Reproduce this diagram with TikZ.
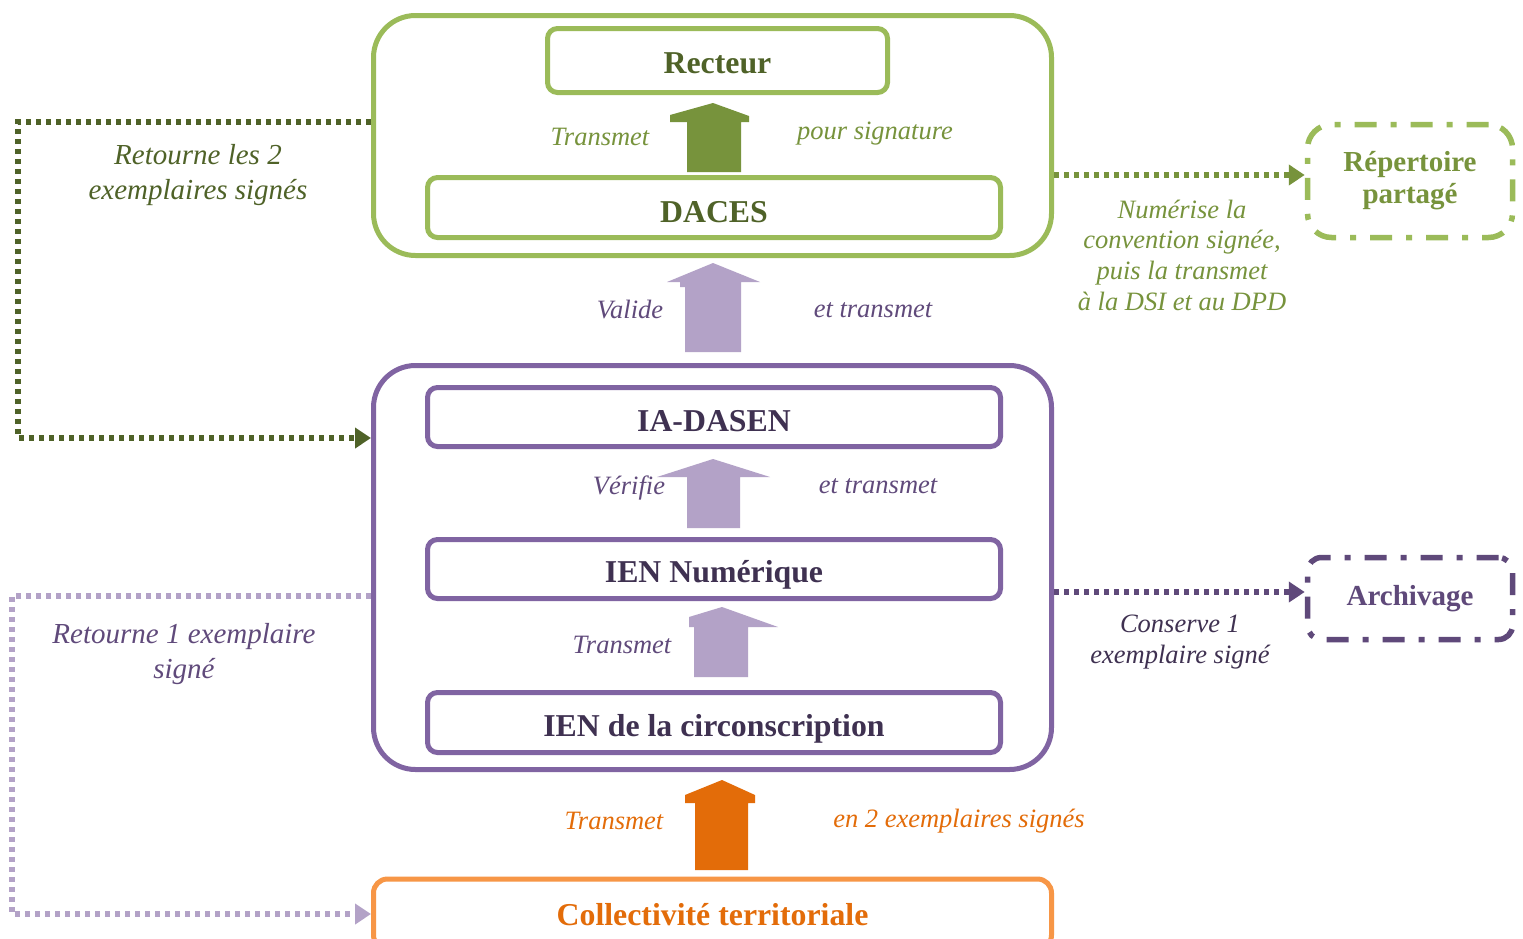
\documentclass[tikz,border=0pt]{standalone}
\usepackage{fontspec}
\setmainfont{Liberation Serif}
\usetikzlibrary{arrows.meta}
\definecolor{lgreen}{HTML}{9BBB59}
\definecolor{mgreen}{HTML}{77933C}
\definecolor{dgreen}{HTML}{4F6228}
\definecolor{lpurple}{HTML}{B3A2C7}
\definecolor{mpurple}{HTML}{8064A2}
\definecolor{tpurple}{HTML}{604A7B}
\definecolor{dpurple}{HTML}{3F3151}
\definecolor{apurple}{HTML}{5F497A}
\definecolor{orangeA}{HTML}{E36C09}
\definecolor{orangeB}{HTML}{F79646}
\tikzset{
  bigbox/.style={draw, line width=5pt, rounded corners=42pt, inner sep=0pt},
  innerbox/.style={draw, line width=5pt, rounded corners=10pt, inner sep=0pt,
    text depth=0pt, font=\fontsize{31.8}{36}\selectfont\bfseries},
  sidebox/.style={draw, line width=5.5pt, rounded corners=24pt, inner sep=0pt,
    dash pattern=on 22pt off 14pt on 6pt off 14pt,
    font=\fontsize{29}{34}\selectfont\bfseries, align=center},
  lbl/.style={font=\fontsize{26.5}{31}\selectfont\itshape, inner sep=0pt, align=center},
  biglbl/.style={font=\fontsize{29}{34.5}\selectfont\itshape, inner sep=0pt, align=center},
  dotline/.style={line width=5.5pt, dash pattern=on 5pt off 5pt,
    -{Triangle[length=16pt,width=20pt]}},
}
\begin{document}
\begin{tikzpicture}[x=1pt,y=-1pt]
\useasboundingbox (0,0) rectangle (1523,938);
\clip (0,0) rectangle (1523,938);
\fill[white] (0,0) rectangle (1523,938);

% big containers
\node[bigbox, lgreen, minimum width=678pt, minimum height=240pt] (green) at (712.5,135.5) {};
\node[bigbox, mpurple, minimum width=678pt, minimum height=404pt] (purple) at (712.5,567.5) {};

% inner boxes
\node[innerbox, lgreen, text=dgreen, text height=25pt, minimum width=340pt, minimum height=64pt] (recteur) at (717.5,60.5) {Recteur};
\node[innerbox, lgreen, text=dgreen, text height=29pt, minimum width=573pt, minimum height=60pt] (daces) at (714,207.5) {DACES};
\node[innerbox, mpurple, text=dpurple, text height=29pt, minimum width=573pt, minimum height=59pt] (iadasen) at (714,417) {IA-DASEN};
\node[innerbox, mpurple, text=dpurple, text height=26pt, minimum width=573pt, minimum height=59pt] (ienn) at (714,569) {IEN Numérique};
\node[innerbox, mpurple, text=dpurple, text height=28pt, minimum width=573pt, minimum height=60pt] (ienc) at (714,722.5) {IEN de la circonscription};
\node[innerbox, orangeB, text=orangeA, text height=23pt, rounded corners=14pt, minimum width=678pt, minimum height=70pt] (coll) at (712.5,914) {Collectivité territoriale};

% side boxes
\node[sidebox, lgreen, text=mgreen, minimum width=205pt, minimum height=113pt] (rep) at (1410,181) {Répertoire\\[-2pt]partagé};
\node[sidebox, apurple, text=apurple, rounded corners=14pt, minimum width=205pt, minimum height=82pt] (arch) at (1410,598.5) {\raisebox{3pt}{Archivage}};

% block arrows
\fill[mgreen] (687,172) -- (687,122) -- (670,122) -- (670,115) -- (713,103) -- (749,116) -- (749,122) -- (741,122) -- (741,172) -- cycle;
\fill[lpurple] (685,352) -- (685,287) -- (680,287) -- (680,282) -- (667,282) -- (713,263) -- (760,282) -- (741,282) -- (741,352) -- cycle;
\fill[lpurple] (687,528) -- (687,477) -- (657,477) -- (713,459) -- (770,477) -- (740,477) -- (740,528) -- cycle;
\fill[lpurple] (694,677) -- (694,627) -- (689,627) -- (689,617) -- (722,607) -- (778,627) -- (748,627) -- (748,677) -- cycle;
\fill[orangeA] (695,870) -- (695,803) -- (685,803) -- (685,795) -- (722,780) -- (755,795) -- (755,803) -- (748,803) -- (748,870) -- cycle;

% arrow labels
\node[lbl, text=mgreen] at (600,137) {Transmet};
\node[lbl, text=mgreen] at (875,134) {pour signature};
\node[lbl, text=tpurple] at (630,309) {Valide};
\node[lbl, text=tpurple] at (873,310) {et transmet};
\node[lbl, text=tpurple] at (629,488) {Vérifie};
\node[lbl, text=tpurple] at (878,486) {et transmet};
\node[lbl, text=tpurple] at (622,645) {Transmet};
\node[lbl, text=orangeA] at (614,821) {Transmet};
\node[lbl, text=orangeA] at (959,821) {en 2 exemplaires signés};

% connectors
\coordinate (gA) at (18,122);
\coordinate (gB) at (18,438);
\draw[dotline, dgreen] (green.west |- 0,122) -- (gA) -- (gB) -- (purple.west |- 0,438);
\draw[dotline, mgreen] (green.east |- 0,175) -- (rep.west |- 0,175);
\coordinate (pA) at (12,596);
\coordinate (pB) at (12,914);
\draw[dotline, lpurple] (purple.west |- 0,596) -- (pA) -- (pB) -- (coll.west);
\draw[dotline, apurple] (purple.east |- 0,592) -- (arch.west |- 0,592);

% side labels
\node[biglbl, text=dgreen] at (198,175) {Retourne les 2\\exemplaires signés};
\node[biglbl, text=tpurple] at (184,654) {Retourne 1 exemplaire\\signé};
\node[lbl, text=mgreen, font=\fontsize{26.5}{30.7}\selectfont\itshape] at (1182,255) {Numérise la\\convention signée,\\puis la transmet\\à la DSI et au DPD};
\node[lbl, text=dpurple] at (1180,642) {Conserve 1\\exemplaire signé};
\end{tikzpicture}
\end{document}
